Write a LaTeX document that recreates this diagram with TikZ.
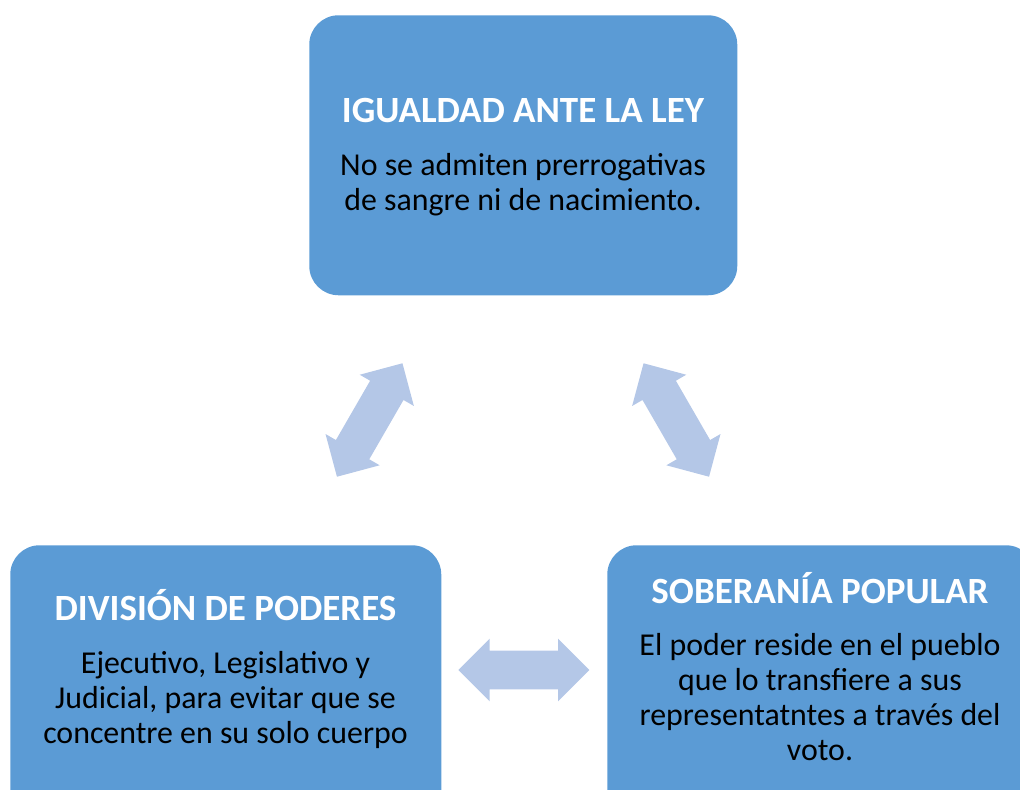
\documentclass[tikz,border=0pt]{standalone}
\usepackage{fontspec}
\setmainfont{Carlito}
\usepackage{tikz}
\usetikzlibrary{positioning,shapes.arrows}
\usepackage{xcolor}
\definecolor{boxblue}{HTML}{5B9BD5}
\definecolor{arrowblue}{HTML}{B4C7E7}

\begin{document}
\begin{tikzpicture}[x=0.75pt,y=-0.75pt,
    box/.style={fill=boxblue,draw=none,rounded corners=22pt,anchor=north west,
      minimum width=321pt,minimum height=210pt,inner sep=0pt},
    boxtitle/.style={font=\fontsize{27.75}{33}\selectfont\bfseries,text=white,
      anchor=base,inner sep=0pt},
    boxtext/.style={font=\fontsize{23.9}{26.25}\selectfont,text=black,
      align=center,anchor=base,inner sep=0pt},
    dblarrow/.style={double arrow,fill=arrowblue,draw=none,inner sep=0pt,
      text height=14.25pt,text depth=14.25pt,
      minimum height=98.25pt,double arrow head extend=9pt}]
  \useasboundingbox (0,0) rectangle (1020,789);
  \clip (0,0) rectangle (1020,789);
  % Top box (base anchor of body = last line)
  \node[box] (igualdad) at (309,15) {};
  \node[boxtitle] (igualdad-t) at (523,122) {IGUALDAD ANTE LA LEY};
  \node[boxtext] (igualdad-b) at (523,210)
    {No se admiten prerrogativas\\de sangre ni de nacimiento.};
  % Bottom left box
  \node[box,minimum width=323.25pt] (division) at (10,545) {};
  \node[boxtitle] (division-t) at (225.5,620) {DIVISIÓN DE PODERES};
  \node[boxtext] (division-b) at (225.5,743)
    {Ejecutivo, Legislativo y\\Judicial, para evitar que se\\concentre en su solo cuerpo};
  % Bottom right box
  \node[box] (soberania) at (607,545) {};
  \node[boxtitle] (soberania-t) at (820,603) {SOBERANÍA POPULAR};
  \node[boxtext] (soberania-b) at (820,760)
    {El poder reside en el pueblo\\que lo transfiere a sus\\representatntes a través del\\voto.};
  % Double arrows
  \node[dblarrow,rotate=60] (arrow-left) at (369.7,420) {};
  \node[dblarrow,rotate=120] (arrow-right) at (676.3,420) {};
  \node[dblarrow] (arrow-bottom) at (523.8,670) {};
\end{tikzpicture}
\end{document}
